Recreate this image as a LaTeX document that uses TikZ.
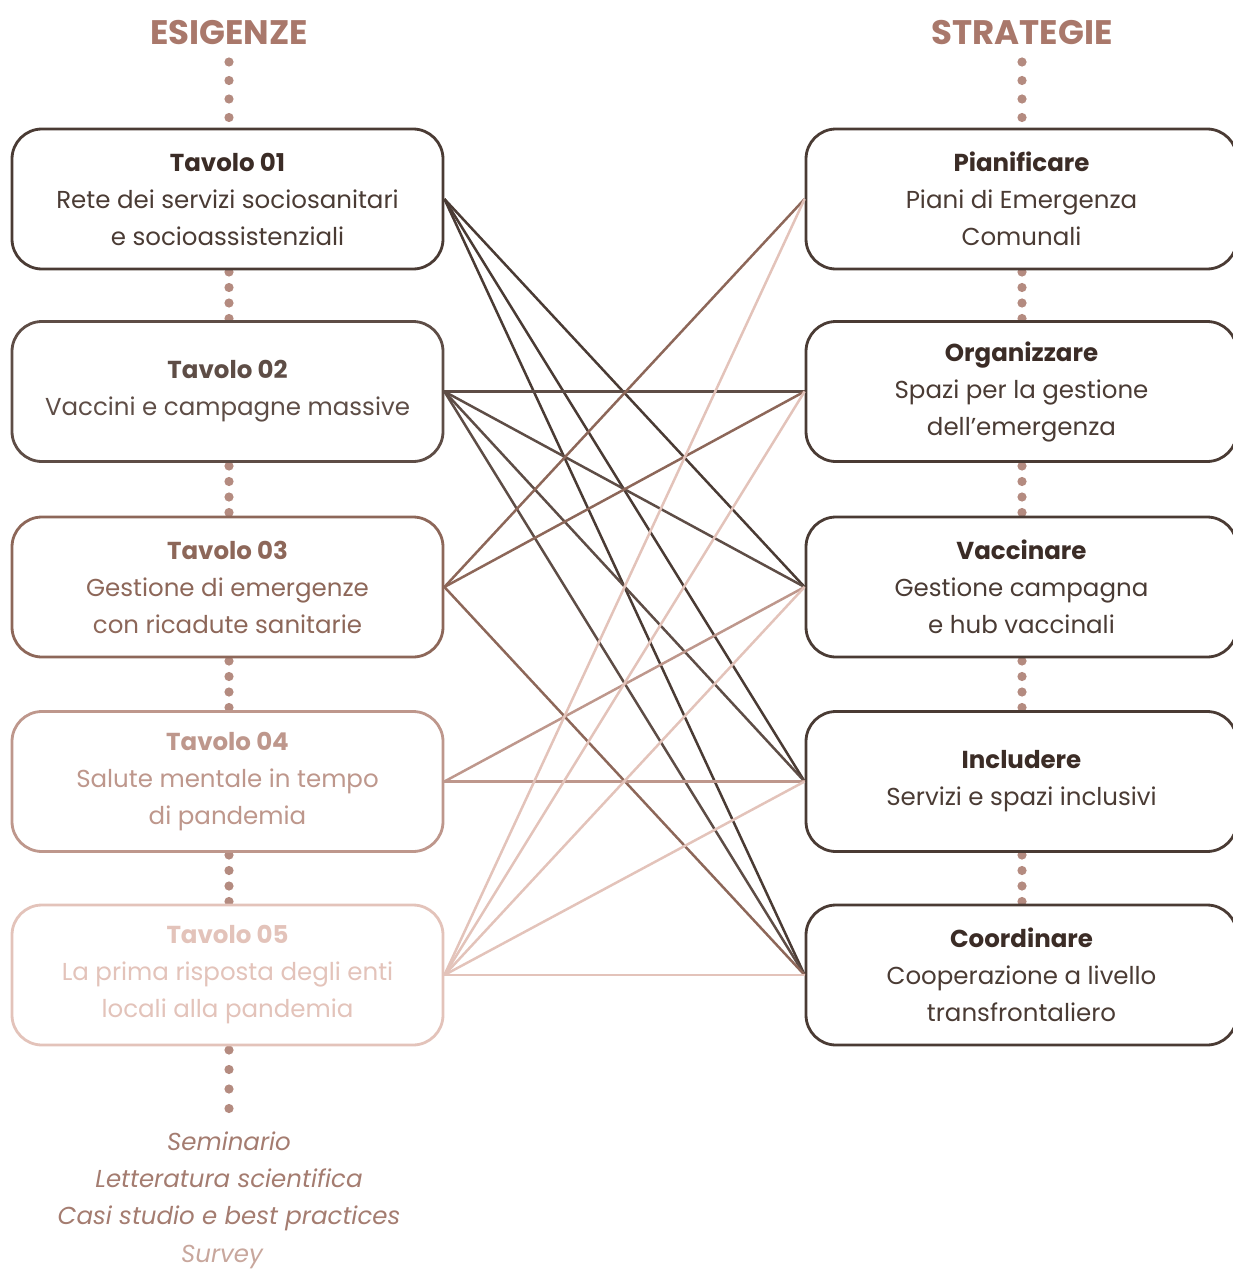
\documentclass[tikz,border=0pt]{standalone}
\usepackage{fontspec}
\setmainfont{Poppins}
\definecolor{ca}{HTML}{4A3B34}
\definecolor{cat}{HTML}{3B2C26}
\definecolor{cb}{HTML}{5E4D46}
\definecolor{cc}{HTML}{8D6759}
\definecolor{cd}{HTML}{BE978C}
\definecolor{ce}{HTML}{E3C3BA}
\definecolor{hdr}{HTML}{A9786B}
\definecolor{dotc}{HTML}{B48B80}
\definecolor{src}{HTML}{A47C70}
\definecolor{srv}{HTML}{C8A79D}
\begin{document}
\begin{tikzpicture}[x=1pt,y=-1pt,
  box/.style={draw=#1, rounded corners=30pt, line width=2.8pt, fill=white,
    minimum width=431pt, minimum height=140pt, align=center, inner sep=0pt,
    font=\fontsize{24.5}{37}\selectfont},
  conn/.style={line width=2.5pt, draw=#1},
  hdrtxt/.style={font=\fontsize{34}{36}\selectfont\bfseries, text=hdr, inner sep=0pt},
  srctxt/.style={font=\fontsize{24.5}{37}\selectfont\itshape, align=center, inner sep=0pt}
]
\useasboundingbox (0,0) rectangle (1232,1271);

% headers
\node[hdrtxt] (hE) at (229,33) {ESIGENZE};
\node[hdrtxt] (hS) at (1022,33) {STRATEGIE};

% dots
\foreach \y in {62,80.5,99,117.5} {
  \fill[dotc] (229,\y) circle (4.6pt);
  \fill[dotc] (1022,\y) circle (4.6pt);
}
\foreach \b in {267,461,656,850} {
  \foreach \k in {0,1,2,3} {
    \fill[dotc] (229,\b+5+\k*15.5) circle (4.6pt);
    \fill[dotc] (1022,\b+5+\k*15.5) circle (4.6pt);
  }
}
\foreach \y in {1050,1069.5,1089,1108.5} {
  \fill[dotc] (229,\y) circle (4.6pt);
}

% left boxes
\node[box=ca] (L1) at (227.5,199) {\textcolor{cat}{\textbf{Tavolo 01}}\\\textcolor{ca}{Rete dei servizi sociosanitari}\\\textcolor{ca}{e socioassistenziali}};
\node[box=cb, text=cb] (L2) at (227.5,391.5) {\textbf{Tavolo 02}\\Vaccini e campagne massive};
\node[box=cc, text=cc] (L3) at (227.5,587) {\textbf{Tavolo 03}\\Gestione di emergenze\\con ricadute sanitarie};
\node[box=cd, text=cd] (L4) at (227.5,781.5) {\textbf{Tavolo 04}\\Salute mentale in tempo\\di pandemia};
\node[box=ce, text=ce] (L5) at (227.5,975) {\textbf{Tavolo 05}\\La prima risposta degli enti\\locali alla pandemia};

% right boxes
\node[box=ca] (R1) at (1021.5,199) {\textcolor{cat}{\textbf{Pianificare}}\\\textcolor{ca}{Piani di Emergenza}\\\textcolor{ca}{Comunali}};
\node[box=ca] (R2) at (1021.5,391.5) {\textcolor{cat}{\textbf{Organizzare}}\\\textcolor{ca}{Spazi per la gestione}\\\textcolor{ca}{dell’emergenza}};
\node[box=ca] (R3) at (1021.5,587) {\textcolor{cat}{\textbf{Vaccinare}}\\\textcolor{ca}{Gestione campagna}\\\textcolor{ca}{e hub vaccinali}};
\node[box=ca] (R4) at (1021.5,781.5) {\textcolor{cat}{\textbf{Includere}}\\\textcolor{ca}{Servizi e spazi inclusivi}};
\node[box=ca] (R5) at (1021.5,975) {\textcolor{cat}{\textbf{Coordinare}}\\\textcolor{ca}{Cooperazione a livello}\\\textcolor{ca}{transfrontaliero}};

% connectors
\foreach \r in {R5,R4,R3} \draw[conn=ca] (L1.east) -- (\r.west);
\foreach \r in {R5,R4,R3,R2} \draw[conn=cb] (L2.east) -- (\r.west);
\foreach \r in {R5,R2,R1} \draw[conn=cc] (L3.east) -- (\r.west);
\foreach \r in {R4,R3} \draw[conn=cd] (L4.east) -- (\r.west);
\foreach \r in {R5,R4,R3,R2,R1} \draw[conn=ce] (L5.east) -- (\r.west);

% sources
\node[srctxt, text=src, anchor=base] (S1) at (229,1150) {Seminario};
\node[srctxt, text=src, anchor=base] (S2) at (229,1187) {Letteratura scientifica};
\node[srctxt, text=src, anchor=base] (S3) at (229,1224) {Casi studio e best practices};
\node[srctxt, text=srv, anchor=base] (S4) at (222,1262) {Survey};
\end{tikzpicture}
\end{document}
